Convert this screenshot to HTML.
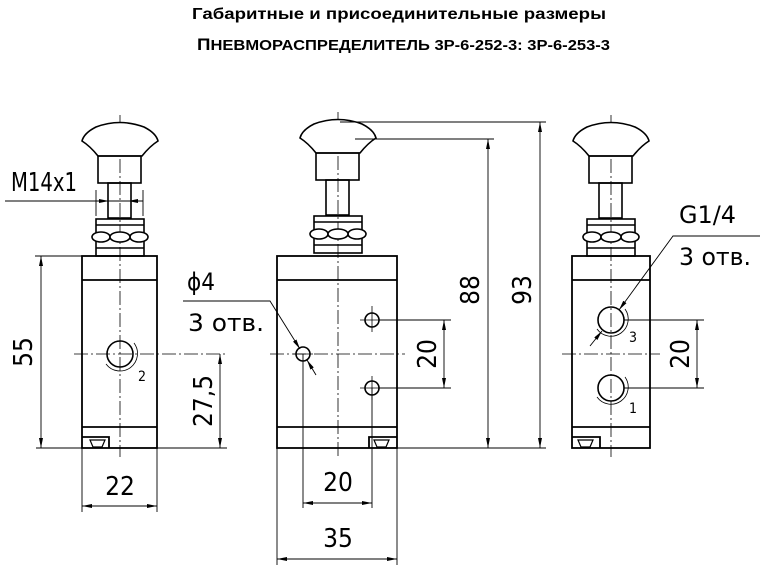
<!DOCTYPE html>
<html><head><meta charset="utf-8"><style>
html,body{margin:0;padding:0;background:#fff;width:761px;height:568px;overflow:hidden}
svg{display:block}
.t{font-family:"Liberation Sans","DejaVu Sans",sans-serif;font-weight:bold;fill:#000}
.d{font-family:"DejaVu Sans Condensed","Liberation Sans Narrow","Liberation Sans",sans-serif;fill:#000;font-size:26px}
</style></head><body>
<svg width="761" height="568" viewBox="0 0 761 568" xmlns="http://www.w3.org/2000/svg">
<defs>
<g id="knob" fill="none" stroke="#000" stroke-width="1.6">
<path d="M-24,127 Q0,118 24,127 Q36,133 38,141 Q30,146 22,156 L-22,156 Q-30,146 -38,141 Q-36,133 -24,127Z" fill="#fff"/>
<rect x="-22" y="156" width="43" height="27"/>
<rect x="-12" y="183" width="23" height="35"/>
<rect x="-24" y="219" width="48" height="37"/>
<line x1="-24" y1="225" x2="24" y2="225"/>
<line x1="-24" y1="248" x2="24" y2="248"/>
<ellipse cx="-19" cy="237" rx="9" ry="5" fill="#fff"/>
<ellipse cx="19" cy="237" rx="9" ry="5" fill="#fff"/>
<ellipse cx="0" cy="237" rx="10" ry="5" fill="#fff"/>
</g>
<marker id="a" viewBox="0 0 10 4" refX="10" refY="2" markerWidth="10" markerHeight="4" orient="auto-start-reverse" markerUnits="userSpaceOnUse"><path d="M0,0L10,2L0,4Z"/></marker>
</defs>
<text class="t" x="192" y="19" font-size="16" textLength="414" lengthAdjust="spacingAndGlyphs">Габаритные и присоединительные размеры</text>
<text class="t" x="197" y="50" font-size="15" textLength="413" lengthAdjust="spacingAndGlyphs"><tspan font-size="17">П</tspan>НЕВМОРАСПРЕДЕЛИТЕЛЬ 3Р-6-252-3: 3Р-6-253-3</text>

<g stroke="#000" fill="none">
<g stroke-width="0.8" stroke-dasharray="14,3,2,3">
<line x1="120" y1="115" x2="120" y2="457"/>
<line x1="338" y1="112" x2="338" y2="457"/>
<line x1="611" y1="115" x2="611" y2="457"/>
<line x1="74" y1="354" x2="227" y2="354"/>
<line x1="270" y1="354" x2="405" y2="354"/>
<line x1="562" y1="354" x2="660" y2="354"/>
</g>
<use href="#knob" x="120"/>
<use href="#knob" x="338" y="-3"/>
<use href="#knob" x="611"/>
<g stroke-width="1.8">
<rect x="82" y="256" width="75" height="192"/>
<line x1="82" y1="280" x2="157" y2="280"/>
<line x1="82" y1="427" x2="157" y2="427"/>
<rect x="277" y="256" width="120" height="192"/>
<line x1="277" y1="280" x2="397" y2="280"/>
<line x1="277" y1="427" x2="397" y2="427"/>
<rect x="572" y="256" width="78" height="192"/>
<line x1="572" y1="280" x2="650" y2="280"/>
<line x1="572" y1="427" x2="650" y2="427"/>
<path d="M82,437 H109 V448 M369,448 V437 H397 M572,437 H600 V448"/>
<path d="M90,440 L93,447 H102 L105,440Z M374,440 L377,447 H386 L389,440Z M578,440 L581,447 H590 L593,440Z" stroke-width="1.2"/>
</g>
<g stroke-width="1.6">
<circle cx="120" cy="354" r="13"/>
<circle cx="303" cy="354" r="7"/>
<circle cx="372" cy="320" r="7"/>
<circle cx="372" cy="388" r="7"/>
<circle cx="611" cy="320" r="13"/>
<circle cx="611" cy="388" r="13"/>
</g>
<g stroke-width="0.8">
<path d="M106,364 A17,17 0 1 0 134,343"/>
<path d="M597,329 A17,17 0 1 0 625,309"/>
<path d="M597,397 A17,17 0 1 0 625,377"/>
<line x1="360" y1="320" x2="384" y2="320"/><line x1="372" y1="306" x2="372" y2="332"/>
<line x1="360" y1="388" x2="384" y2="388"/><line x1="372" y1="376" x2="372" y2="400"/>
<line x1="293" y1="354" x2="313" y2="354"/>
</g>
<g stroke-width="0.9">
<line x1="35" y1="256" x2="82" y2="256"/>
<line x1="36" y1="448" x2="227" y2="448"/>
<line x1="41" y1="256" x2="41" y2="448" marker-start="url(#a)" marker-end="url(#a)"/>
<line x1="220" y1="354" x2="220" y2="448" marker-start="url(#a)" marker-end="url(#a)"/>
<line x1="82" y1="448" x2="82" y2="512"/><line x1="157" y1="448" x2="157" y2="512"/>
<line x1="82" y1="506" x2="157" y2="506" marker-start="url(#a)" marker-end="url(#a)"/>
<line x1="5" y1="201" x2="143" y2="201"/>
<line x1="96" y1="190" x2="96" y2="216"/><line x1="143" y1="190" x2="143" y2="216"/>
<line x1="96" y1="201" x2="109" y2="201" marker-end="url(#a)"/>
<line x1="140" y1="201" x2="128" y2="201" marker-end="url(#a)"/>
<line x1="397" y1="448" x2="470" y2="448"/>
<line x1="303" y1="354" x2="303" y2="508"/><line x1="372" y1="388" x2="372" y2="508"/>
<line x1="303" y1="503" x2="372" y2="503" marker-start="url(#a)" marker-end="url(#a)"/>
<line x1="277" y1="448" x2="277" y2="565"/><line x1="397" y1="448" x2="397" y2="565"/>
<line x1="277" y1="559" x2="397" y2="559" marker-start="url(#a)" marker-end="url(#a)"/>
<line x1="379" y1="320" x2="451" y2="320"/><line x1="379" y1="388" x2="451" y2="388"/>
<line x1="444" y1="320" x2="444" y2="388" marker-start="url(#a)" marker-end="url(#a)"/>
<line x1="355" y1="139" x2="494" y2="139"/><line x1="340" y1="122" x2="546" y2="122"/>
<line x1="488" y1="139" x2="488" y2="448" marker-start="url(#a)" marker-end="url(#a)"/>
<line x1="470" y1="448" x2="546" y2="448"/>
<line x1="540" y1="122" x2="540" y2="448" marker-start="url(#a)" marker-end="url(#a)"/>
<path d="M183,301 H270 L300,349" marker-end="url(#a)"/>
<line x1="316" y1="375" x2="307" y2="360" marker-end="url(#a)"/>
<line x1="624" y1="320" x2="704" y2="320"/><line x1="624" y1="388" x2="704" y2="388"/>
<line x1="697" y1="320" x2="697" y2="388" marker-start="url(#a)" marker-end="url(#a)"/>
<path d="M760,236 H673 L619,310" marker-end="url(#a)"/>
<line x1="590" y1="346" x2="602" y2="331" marker-end="url(#a)"/>
</g>
</g>
<g class="d">
<text x="11" y="191" textLength="66" lengthAdjust="spacingAndGlyphs">M14x1</text>
<text transform="translate(32,352) rotate(-90)" text-anchor="middle">55</text>
<text transform="translate(212,401) rotate(-90)" text-anchor="middle">27,5</text>
<text x="120" y="495" text-anchor="middle">22</text>
<text x="138" y="381" font-size="14">2</text>
<text x="187" y="290" font-size="24">ϕ4</text>
<text x="188" y="331" font-size="24" textLength="76" lengthAdjust="spacingAndGlyphs">3 отв.</text>
<text x="338" y="491" text-anchor="middle">20</text>
<text x="338" y="547" text-anchor="middle">35</text>
<text transform="translate(436,354) rotate(-90)" text-anchor="middle">20</text>
<text transform="translate(479,290) rotate(-90)" text-anchor="middle">88</text>
<text transform="translate(531,290) rotate(-90)" text-anchor="middle">93</text>
<text x="679" y="223" font-size="24" textLength="57" lengthAdjust="spacingAndGlyphs">G1/4</text>
<text x="679" y="265" font-size="24" textLength="72" lengthAdjust="spacingAndGlyphs">3 отв.</text>
<text x="629" y="342" font-size="14">3</text>
<text x="629" y="413" font-size="14">1</text>
<text transform="translate(689,354) rotate(-90)" text-anchor="middle">20</text>
</g>
</svg>
</body></html>
